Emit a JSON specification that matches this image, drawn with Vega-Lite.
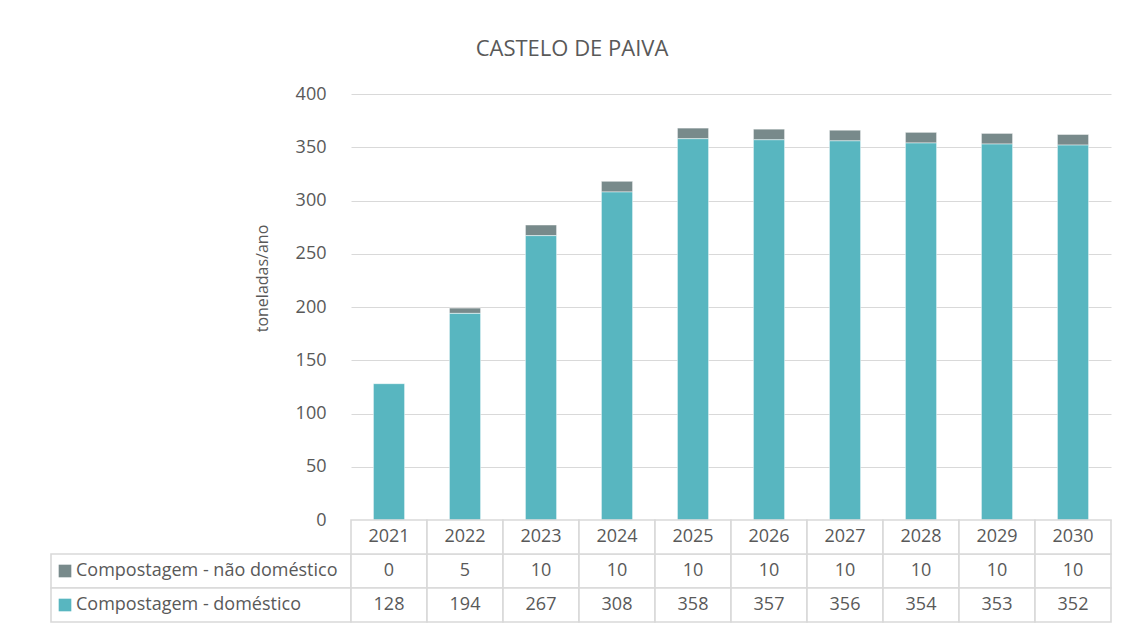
{
  "$schema": "https://vega.github.io/schema/vega-lite/v6.json",
  "padding": {"left": 50, "top": 38, "right": 18, "bottom": 0},
  "background": "#ffffff",
  "title": {"text": "CASTELO DE PAIVA", "fontSize": 22, "fontWeight": "normal", "font": "Open Sans", "color": "#595959", "anchor": "middle", "offset": 24, "dx": -9},
  "config": {
    "view": {"stroke": null},
    "font": "Open Sans",
    "concat": {"spacing": 0}
  },
  "datasets": {
    "dados": [
      {"ano": "2021", "serie": "Compostagem - não doméstico", "valor": 0},
      {"ano": "2021", "serie": "Compostagem - doméstico", "valor": 128},
      {"ano": "2022", "serie": "Compostagem - não doméstico", "valor": 5},
      {"ano": "2022", "serie": "Compostagem - doméstico", "valor": 194},
      {"ano": "2023", "serie": "Compostagem - não doméstico", "valor": 10},
      {"ano": "2023", "serie": "Compostagem - doméstico", "valor": 267},
      {"ano": "2024", "serie": "Compostagem - não doméstico", "valor": 10},
      {"ano": "2024", "serie": "Compostagem - doméstico", "valor": 308},
      {"ano": "2025", "serie": "Compostagem - não doméstico", "valor": 10},
      {"ano": "2025", "serie": "Compostagem - doméstico", "valor": 358},
      {"ano": "2026", "serie": "Compostagem - não doméstico", "valor": 10},
      {"ano": "2026", "serie": "Compostagem - doméstico", "valor": 357},
      {"ano": "2027", "serie": "Compostagem - não doméstico", "valor": 10},
      {"ano": "2027", "serie": "Compostagem - doméstico", "valor": 356},
      {"ano": "2028", "serie": "Compostagem - não doméstico", "valor": 10},
      {"ano": "2028", "serie": "Compostagem - doméstico", "valor": 354},
      {"ano": "2029", "serie": "Compostagem - não doméstico", "valor": 10},
      {"ano": "2029", "serie": "Compostagem - doméstico", "valor": 353},
      {"ano": "2030", "serie": "Compostagem - não doméstico", "valor": 10},
      {"ano": "2030", "serie": "Compostagem - doméstico", "valor": 352}
    ]
  },
  "columns": 2,
  "align": "each",
  "bounds": "flush",
  "concat": [
    {
      "width": 300,
      "height": 426,
      "data": {"values": []},
      "mark": "point"
    },
    {
      "width": 760,
      "height": 426,
      "data": {"name": "dados"},
      "mark": {"type": "bar", "stroke": "#ffffff", "strokeWidth": 0.8, "strokeOpacity": 0.6},
      "encoding": {
        "x": {"field": "ano", "type": "nominal", "axis": null, "scale": {"paddingInner": 0.59, "paddingOuter": 0.295}},
        "y": {
          "field": "valor", "type": "quantitative", "aggregate": "sum",
          "scale": {"domain": [0, 400]},
          "axis": {
            "title": "toneladas/ano", "titleFontSize": 16, "titleFontWeight": "normal", "titleColor": "#595959", "titlePadding": 25, "titleY": 184,
            "values": [0, 50, 100, 150, 200, 250, 300, 350, 400],
            "labelFontSize": 18, "labelColor": "#595959", "labelPadding": 25,
            "ticks": false, "domain": false, "gridColor": "#d9d9d9", "gridWidth": 1
          }
        },
        "color": {
          "field": "serie", "type": "nominal", "legend": null,
          "scale": {"domain": ["Compostagem - não doméstico", "Compostagem - doméstico"], "range": ["#788A8B", "#58B6C0"]}
        },
        "order": {"field": "serie", "type": "nominal", "sort": "ascending"}
      }
    },
    {
      "width": 300,
      "height": 102,
      "data": {"name": "dados"},
      "transform": [{"filter": "datum.ano == '2021'"}],
      "encoding": {
        "y": {"field": "serie", "type": "nominal", "axis": null,
          "scale": {"domain": ["Ano", "Compostagem - não doméstico", "Compostagem - doméstico"], "paddingInner": 0, "paddingOuter": 0}}
      },
      "layer": [
        {
          "mark": {"type": "rect", "fill": "#ffffff", "stroke": "#d9d9d9", "strokeWidth": 1.6},
          "encoding": {}
        },
        {
          "mark": {"type": "square", "filled": true, "size": 160, "opacity": 1, "x": 14},
          "encoding": {
            "color": {
              "field": "serie", "type": "nominal", "legend": null,
              "scale": {"domain": ["Compostagem - não doméstico", "Compostagem - doméstico"], "range": ["#788A8B", "#58B6C0"]}
            }
          }
        },
        {
          "mark": {"type": "text", "align": "left", "baseline": "middle", "fontSize": 18, "color": "#595959", "x": 25},
          "encoding": {"text": {"field": "serie"}}
        }
      ]
    },
    {
      "width": 760,
      "height": 102,
      "data": {"name": "dados"},
      "encoding": {
        "x": {"field": "ano", "type": "nominal", "axis": null, "scale": {"paddingInner": 0, "paddingOuter": 0}}
      },
      "layer": [
        {
          "mark": {"type": "rect", "fill": "#ffffff", "stroke": "#d9d9d9", "strokeWidth": 1.6},
          "encoding": {
            "y": {"field": "serie", "type": "nominal", "axis": null,
              "scale": {"domain": ["Ano", "Compostagem - não doméstico", "Compostagem - doméstico"], "paddingInner": 0, "paddingOuter": 0}}
          }
        },
        {
          "transform": [{"filter": "datum.serie == 'Compostagem - doméstico'"}],
          "mark": {"type": "rect", "fill": "#ffffff", "stroke": "#d9d9d9", "strokeWidth": 1.6},
          "encoding": {"y": {"datum": "Ano"}}
        },
        {
          "mark": {"type": "text", "baseline": "middle", "fontSize": 18, "color": "#595959"},
          "encoding": {
            "y": {"field": "serie", "type": "nominal"},
            "text": {"field": "valor", "type": "quantitative"}
          }
        },
        {
          "transform": [{"filter": "datum.serie == 'Compostagem - doméstico'"}],
          "mark": {"type": "text", "baseline": "middle", "fontSize": 18, "color": "#595959"},
          "encoding": {
            "y": {"datum": "Ano"},
            "text": {"field": "ano", "type": "nominal"}
          }
        }
      ]
    }
  ]
}
